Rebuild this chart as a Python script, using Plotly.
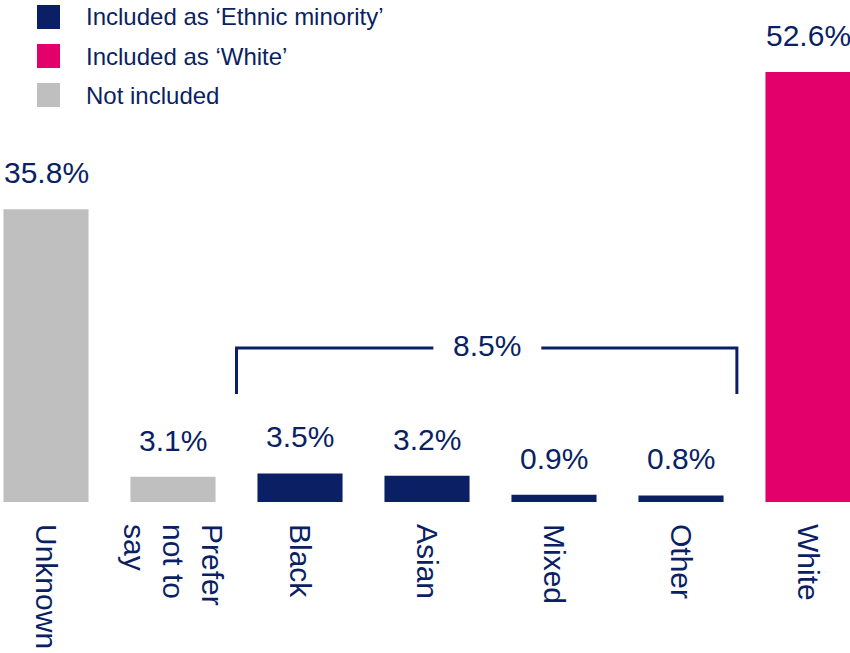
import plotly.graph_objects as go

categories = ["Unknown", "Prefer not to say", "Black", "Asian", "Mixed", "Other", "White"]
tick_labels = ["Unknown", "Prefer<br>not to<br>say", "Black", "Asian", "Mixed", "Other", "White"]
values = [35.8, 3.1, 3.5, 3.2, 0.9, 0.8, 52.6]
groups = ["Not included", "Not included", "Included as ‘Ethnic minority’",
          "Included as ‘Ethnic minority’", "Included as ‘Ethnic minority’",
          "Included as ‘Ethnic minority’", "Included as ‘White’"]
legend_names = ["Included as ‘Ethnic minority’", "Included as ‘White’", "Not included"]
ethnic_minority_total = 8.5

NAVY = "#0b1f65"
PINK = "#e3006b"
GRAY = "#bfbfbf"
group_colors = {
    "Included as ‘Ethnic minority’": NAVY,
    "Included as ‘White’": PINK,
    "Not included": GRAY,
}

W, H = 850, 653
PLOT_H = 502
FONT = "Liberation Sans, Arial, sans-serif"
PX_PER_UNIT = 8.175

fig = go.Figure()
fig.add_trace(go.Bar(
    x=categories,
    y=values,
    marker=dict(color=[group_colors[g] for g in groups], line=dict(width=0)),
    width=0.67,
    showlegend=False,
    hoverinfo="x+y",
))

annotations = []
for c, v in zip(categories, values):
    annotations.append(dict(
        x=c, y=v, xref="x", yref="y", text=f"{v}%", showarrow=False,
        yanchor="bottom", xanchor="center", yshift=18,
        font=dict(size=30, color=NAVY, family=FONT),
    ))

# bracket for ethnic minority total
bx0, bx1 = 1.5, 5.44
by_top, by_bot = 18.84, 13.2
gap_l, gap_r = 3.05, 3.9
shape_line = dict(color=NAVY, width=3)
shapes = [
    dict(type="path", xref="x", yref="y",
         path=f"M {bx0},{by_bot} L {bx0},{by_top} L {gap_l},{by_top}", line=shape_line),
    dict(type="path", xref="x", yref="y",
         path=f"M {gap_r},{by_top} L {bx1},{by_top} L {bx1},{by_bot}", line=shape_line),
]
annotations.append(dict(
    x=(gap_l + gap_r) / 2, y=by_top, xref="x", yref="y",
    text=f"{ethnic_minority_total}%", showarrow=False,
    xanchor="center", yanchor="middle", yshift=2,
    font=dict(size=30, color=NAVY, family=FONT),
))

# manual legend (pixel positions converted to paper)
def px_x(p):
    return p / W

def px_y(p):
    return 1 - p / PLOT_H

row_centers = [17, 56, 95]
for name, yc in zip(legend_names, row_centers):
    shapes.append(dict(type="rect", xref="paper", yref="paper",
                       x0=px_x(37), x1=px_x(60), y0=px_y(yc + 12), y1=px_y(yc - 12),
                       fillcolor=group_colors[name], line=dict(width=0)))
    annotations.append(dict(x=px_x(84), y=px_y(yc), xref="paper", yref="paper",
                            text=name, showarrow=False, xanchor="left", yanchor="middle",
                            font=dict(size=24, color=NAVY, family=FONT)))

# x range: category centre 0 at px 46, spacing 127 px
x_lo = -46 / 127
x_hi = x_lo + W / 127

fig.update_layout(
    width=W, height=H,
    margin=dict(l=0, r=0, t=0, b=H - PLOT_H),
    paper_bgcolor="white", plot_bgcolor="white",
    annotations=annotations, shapes=shapes,
    font=dict(family=FONT, color=NAVY),
)
fig.update_xaxes(
    type="category", range=[x_lo, x_hi],
    tickvals=categories, ticktext=tick_labels, tickangle=90,
    tickfont=dict(size=30, color=NAVY, family=FONT),
    showgrid=False, showline=False, zeroline=False, ticks="",
    ticklabelstandoff=21,
)
fig.update_yaxes(range=[0, PLOT_H / PX_PER_UNIT], visible=False, showgrid=False)

fig.write_html(
    "out.html",
    config={"displayModeBar": False},
    post_script="document.body.style.margin='0';document.body.style.overflow='hidden';",
)
